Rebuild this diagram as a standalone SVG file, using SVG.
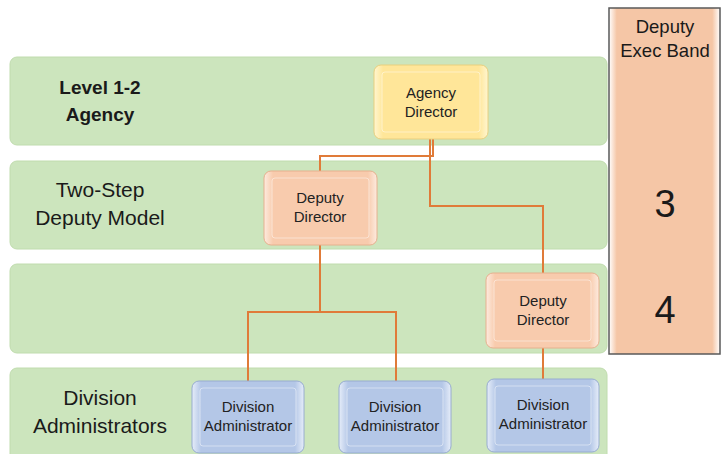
<svg xmlns="http://www.w3.org/2000/svg" width="722" height="454" viewBox="0 0 722 454">
<defs>
<linearGradient id="gY" x1="0" y1="0" x2="1" y2="0">
<stop offset="0" stop-color="#FFF6D0"/><stop offset="0.08" stop-color="#FFE699"/><stop offset="0.92" stop-color="#FFE699"/><stop offset="1" stop-color="#FFF6D0"/>
</linearGradient>
<linearGradient id="gO" x1="0" y1="0" x2="1" y2="0">
<stop offset="0" stop-color="#FDEBDF"/><stop offset="0.08" stop-color="#F8CBAD"/><stop offset="0.92" stop-color="#F8CBAD"/><stop offset="1" stop-color="#FDEBDF"/>
</linearGradient>
<linearGradient id="gB" x1="0" y1="0" x2="1" y2="0">
<stop offset="0" stop-color="#E6EDF9"/><stop offset="0.08" stop-color="#B4C7E7"/><stop offset="0.92" stop-color="#B4C7E7"/><stop offset="1" stop-color="#E6EDF9"/>
</linearGradient>
<linearGradient id="gBand" x1="0" y1="0" x2="1" y2="0">
<stop offset="0" stop-color="#FFFFFF"/><stop offset="0.07" stop-color="#F5C6A6"/><stop offset="0.93" stop-color="#F5C6A6"/><stop offset="1" stop-color="#FFFFFF"/>
</linearGradient>
</defs>
<style>
.band{fill:#CCE5BD;stroke:#C0DCAE;stroke-width:1}
.lbl{font-family:"Liberation Sans",Arial,sans-serif;fill:#1a1a1a;text-anchor:middle}
.ntxt{font-family:"Liberation Sans",Arial,sans-serif;font-size:15px;fill:#222;text-anchor:middle}
.y{fill:url(#gY);stroke:#E8CF7E;stroke-width:1}
.o{fill:url(#gO);stroke:#E6B08E;stroke-width:1}
.b{fill:url(#gB);stroke:#97ACD0;stroke-width:1}
.face{fill:none;stroke:#ffffff;stroke-opacity:0.45;stroke-width:1}
.conn{fill:none;stroke:#E07B39;stroke-width:2}
</style>

<g id="bands">
<rect class="band" x="10" y="57" width="597" height="88" rx="7"/>
<rect class="band" x="10" y="161" width="597" height="88" rx="7"/>
<rect class="band" x="10" y="264" width="597" height="89" rx="7"/>
<rect class="band" x="10" y="368" width="597" height="94" rx="7"/>
</g>

<g id="band-labels">
<text class="lbl" x="100" y="94" font-size="19" font-weight="bold">Level 1-2</text>
<text class="lbl" x="100" y="121" font-size="19" font-weight="bold">Agency</text>
<text class="lbl" x="100" y="197" font-size="21">Two-Step</text>
<text class="lbl" x="100" y="225" font-size="21">Deputy Model</text>
<text class="lbl" x="100" y="405" font-size="21">Division</text>
<text class="lbl" x="100" y="433" font-size="21">Administrators</text>
</g>

<g id="exec-band">
<rect x="609" y="8" width="111" height="346" fill="url(#gBand)" stroke="#595959" stroke-width="1.5"/>
<text class="lbl" x="665" y="33" font-size="18.5">Deputy</text>
<text class="lbl" x="665" y="57" font-size="18.5">Exec Band</text>
<text class="lbl" x="665" y="217" font-size="38">3</text>
<text class="lbl" x="665" y="323" font-size="38">4</text>
</g>

<g id="connectors">
<polyline class="conn" points="433,139 433,156 320,156 320,171"/>
<polyline class="conn" points="430,139 430,206 543,206 543,273"/>
<polyline class="conn" points="320,245 320,312" stroke-width="2.5"/>
<polyline class="conn" points="248,381 248,312 396,312 396,381"/>
<polyline class="conn" points="543,348 543,379"/>
</g>

<g id="agency-director">
<rect class="y" x="374" y="65" width="114" height="74" rx="7"/>
<rect class="face" x="382" y="72" width="98" height="60" rx="3"/>
<text class="ntxt" x="431" y="98">Agency</text>
<text class="ntxt" x="431" y="117">Director</text>
</g>

<g id="deputy-director-1">
<rect class="o" x="264" y="171" width="113" height="74" rx="7"/>
<rect class="face" x="272" y="178" width="97" height="60" rx="3"/>
<text class="ntxt" x="320" y="203">Deputy</text>
<text class="ntxt" x="320" y="222">Director</text>
</g>

<g id="deputy-director-2">
<rect class="o" x="486" y="273" width="113" height="75" rx="7"/>
<rect class="face" x="494" y="280" width="97" height="61" rx="3"/>
<text class="ntxt" x="543" y="306">Deputy</text>
<text class="ntxt" x="543" y="325">Director</text>
</g>

<g id="division-admin-1">
<rect class="b" x="192" y="381" width="112" height="72" rx="7"/>
<rect class="face" x="200" y="388" width="96" height="58" rx="3"/>
<text class="ntxt" x="248" y="412">Division</text>
<text class="ntxt" x="248" y="431">Administrator</text>
</g>

<g id="division-admin-2">
<rect class="b" x="339" y="381" width="112" height="72" rx="7"/>
<rect class="face" x="347" y="388" width="96" height="58" rx="3"/>
<text class="ntxt" x="395" y="412">Division</text>
<text class="ntxt" x="395" y="431">Administrator</text>
</g>

<g id="division-admin-3">
<rect class="b" x="487" y="379" width="112" height="73" rx="7"/>
<rect class="face" x="495" y="386" width="96" height="59" rx="3"/>
<text class="ntxt" x="543" y="410">Division</text>
<text class="ntxt" x="543" y="429">Administrator</text>
</g>
</svg>
